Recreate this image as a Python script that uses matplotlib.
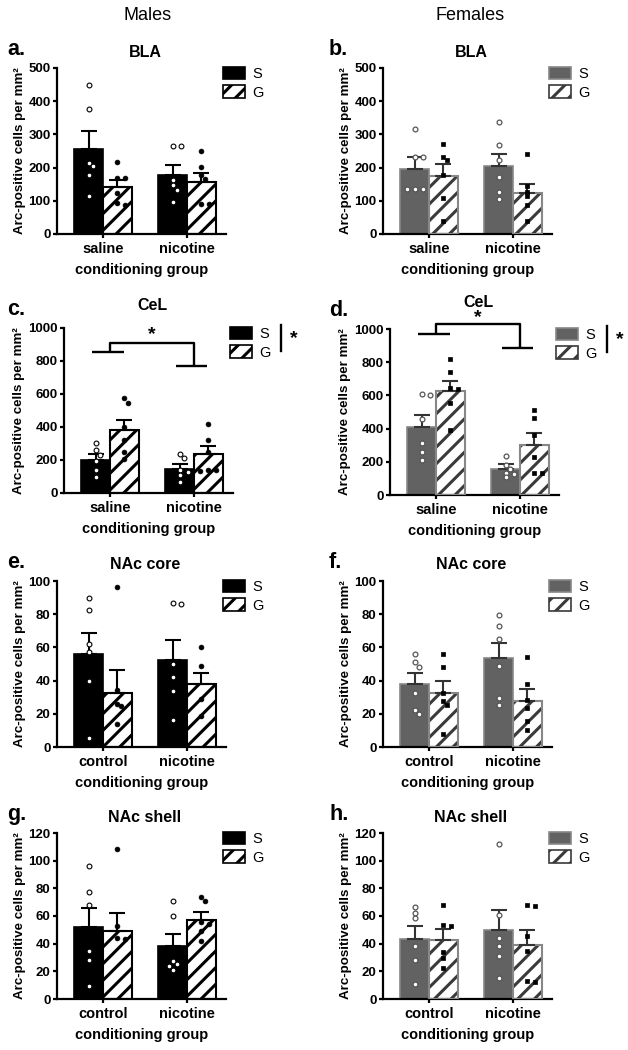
import numpy as np
import matplotlib
matplotlib.use("Agg")
import matplotlib.pyplot as plt
from matplotlib.patches import Patch

plt.rcParams['font.family'] = ['Liberation Sans', 'DejaVu Sans']
plt.rcParams['hatch.linewidth'] = 2.2

# ---- data ----
groups_cea = ['saline', 'nicotine']
groups_nac = ['control', 'nicotine']

# a. males BLA
a_s_mean = [256, 177]; a_s_sem = [53, 30]
a_g_mean = [142, 157]; a_g_sem = [22, 27]
a_s_pts = [[448, 378, 214, 206, 179, 113], [266, 266, 162, 147, 134, 95]]
a_g_pts = [[216, 168, 168, 124, 93, 88], [251, 203, 179, 166, 91, 91]]

# b. females BLA
b_s_mean = [196, 204]; b_s_sem = [36, 37]
b_g_mean = [174, 123]; b_g_sem = [37, 29]
b_s_pts = [[316, 232, 232, 136, 136, 136], [337, 268, 224, 173, 128, 106]]
b_g_pts = [[272, 232, 222, 179, 107, 40], [241, 144, 128, 113, 87, 40]]

# c. males CeL
c_s_mean = [199, 146]; c_s_sem = [36, 30]
c_g_mean = [380, 235]; c_g_sem = [64, 48]
c_s_pts = [[302, 258, 231, 191, 141, 95], [235, 215, 141, 130, 111, 64]]
c_g_pts = [[575, 547, 402, 322, 250, 207], [417, 322, 250, 141, 137, 133]]
c_bracket = [855, 910, 770]
c_star = 958

# d. females CeL
d_s_mean = [410, 157]; d_s_sem = [74, 27]
d_g_mean = [626, 301]; d_g_sem = [62, 70]
d_s_pts = [[608, 602, 460, 315, 261, 211], [237, 181, 157, 135, 126, 106]]
d_g_pts = [[817, 739, 643, 636, 552, 392], [512, 466, 361, 231, 131, 131]]
d_bracket = [970, 1030, 884]
d_star = 1066

# e. males NAc core
e_s_mean = [55.8, 52.3]; e_s_sem = [12.9, 12.4]
e_g_mean = [32.7, 37.8]; e_g_sem = [13.9, 6.8]
e_s_pts = [[89.6, 82.5, 61.8, 57.0, 39.8, 5.4], [87.0, 86.0, 50.2, 42.2, 33.9, 16.1]]
e_g_pts = [[96.4, 34.5, 26.1, 24.5, 14.1], [60.0, 48.8, 29.1, 18.7]]

# f. females NAc core
f_s_mean = [38.0, 53.4]; f_s_sem = [6.8, 9.4]
f_g_mean = [32.8, 28.0]; f_g_sem = [7.2, 7.0]
f_s_pts = [[56.0, 51.0, 48.2, 32.6, 22.4, 20.0], [79.4, 73.0, 65.0, 48.8, 29.4, 25.4]]
f_g_pts = [[56.0, 48.0, 32.8, 27.6, 25.6, 8.0], [54.4, 38.2, 28.4, 23.4, 15.8, 10.4]]

# g. males NAc shell
g_s_mean = [52.0, 38.0]; g_s_sem = [13.8, 8.7]
g_g_mean = [49.2, 57.3]; g_g_sem = [13.0, 5.6]
g_s_pts = [[95.9, 77.1, 68.2, 34.9, 28.2, 9.2], [71.1, 59.8, 27.2, 25.3, 23.6, 21.0]]
g_g_pts = [[108.7, 52.5, 44.1, 43.4], [73.7, 71.1, 56.0, 54.2, 48.9, 41.7]]

# h. females NAc shell
h_s_mean = [43.6, 49.6]; h_s_sem = [9.4, 14.4]
h_g_mean = [42.9, 39.3]; h_g_sem = [7.7, 10.8]
h_s_pts = [[66.3, 62.2, 58.6, 38.6, 28.4, 10.8], [112.3, 61.0, 43.9, 38.1, 30.8, 15.2]]
h_g_pts = [[68.2, 53.3, 53.0, 34.0, 29.6, 22.4], [67.7, 67.0, 45.3, 34.5, 12.8, 12.0]]

W, H = 628, 1050
UNIT = 84.0          # pixels between the two groups
XLIM = (-0.55, 1.47)
BW = 0.34

fig = plt.figure(figsize=(W / 100, H / 100), dpi=100)


def swarm(vals, px_per_unit, d=4.8):
    # simple beeswarm, returns x offsets in pixels
    placed = []
    offs = []
    for v in vals:
        y = v * px_per_unit
        for k in [0, 1, -1, 2, -2, 3, -3, 4, -4]:
            x = k * d * 0.85
            if all((x - px) ** 2 + (y - py) ** 2 >= d * d for px, py in placed):
                break
        placed.append((x, y))
        offs.append(x)
    return np.array(offs)


def fxy(x, y):
    return x / W, 1 - y / H


def panel(c0, top, bottom, letter, title, title_y, s_mean, s_sem, g_mean, g_sem, s_pts, g_pts,
          female, ymax, ystep, groups):
    left = c0 + XLIM[0] * UNIT
    right = c0 + XLIM[1] * UNIT
    ax = fig.add_axes([left / W, 1 - bottom / H, (right - left) / W, (bottom - top) / H])
    x = np.arange(2)

    if female:
        s_face, s_edge, hatch_c, g_edge, err_c = '#626262', '#878787', '#3a3a3a', '#878787', '#333333'
    else:
        s_face, s_edge, hatch_c, g_edge, err_c = 'black', 'black', 'black', 'black', 'black'

    ax.bar(x - BW / 2, s_mean, BW, color=s_face, edgecolor=s_edge, linewidth=1.2, zorder=2)
    ax.bar(x + BW / 2, g_mean, BW, color='white', edgecolor=hatch_c, hatch='//', linewidth=0, zorder=2)
    ax.bar(x + BW / 2, g_mean, BW, fill=False, edgecolor=g_edge, linewidth=1.5, zorder=3)
    ax.errorbar(x - BW / 2, s_mean, yerr=[np.zeros(2), s_sem], fmt='none', ecolor=err_c,
                elinewidth=1.5, capsize=5.5, capthick=1.5, zorder=4)
    ax.errorbar(x + BW / 2, g_mean, yerr=[np.zeros(2), g_sem], fmt='none', ecolor=err_c,
                elinewidth=1.5, capsize=5.5, capthick=1.5, zorder=4)

    ppu = (bottom - top) / ymax
    for i in range(2):
        so = swarm(s_pts[i], ppu) / UNIT
        go = swarm(g_pts[i], ppu) / UNIT
        if female:
            ax.scatter(x[i] - BW / 2 + so, s_pts[i], s=12, marker='o', facecolor='white',
                       edgecolor='#555555', linewidth=0.9, zorder=5, clip_on=False)
            ax.scatter(x[i] + BW / 2 + go, g_pts[i], s=11, marker='s', facecolor='black',
                       edgecolor='black', linewidth=0.5, zorder=5, clip_on=False)
        else:
            ax.scatter(x[i] - BW / 2 + so, s_pts[i], s=12, marker='o', facecolor='white',
                       edgecolor='black', linewidth=0.8, zorder=5, clip_on=False)
            ax.scatter(x[i] + BW / 2 + go, g_pts[i], s=12, marker='o', facecolor='black',
                       edgecolor='black', linewidth=0.5, zorder=5, clip_on=False)

    ax.set_xlim(*XLIM)
    ax.set_ylim(0, ymax)
    ax.set_yticks(np.arange(0, ymax + 1, ystep))
    ax.set_xticks(x)
    ax.set_xticklabels(groups)
    for sp in ['top', 'right']:
        ax.spines[sp].set_visible(False)
    for sp in ['left', 'bottom']:
        ax.spines[sp].set_linewidth(1.6)
    ax.tick_params(width=1.6, length=3, labelsize=9.5, pad=1.5)
    ax.tick_params(axis='x', labelsize=10.5, pad=3)
    for lab in ax.get_xticklabels() + ax.get_yticklabels():
        lab.set_fontweight('bold')
    ax.set_xlabel('conditioning group', fontsize=10.5, fontweight='bold', labelpad=5)
    ax.set_ylabel('Arc-positive cells per mm²', fontsize=9.6, fontweight='bold', labelpad=2)

    handles = [Patch(facecolor=s_face, edgecolor=s_edge, linewidth=1.2),
               Patch(facecolor='white', edgecolor=hatch_c, hatch='//', linewidth=1.2)]
    ax.legend(handles, ['S', 'G'], loc='upper left', bbox_to_anchor=fxy(right - 3, top - 1),
              bbox_transform=fig.transFigure, frameon=False, fontsize=10.5, borderpad=0,
              borderaxespad=0, handlelength=1.45, handleheight=0.9, handletextpad=0.55,
              labelspacing=0.3)

    lx = 7 if c0 < 314 else 329
    fig.text(*fxy(lx, top - 13), letter, fontsize=15.5, fontweight='bold', ha='left', va='baseline')
    fig.text(*fxy(c0 + 42, title_y), title, fontsize=11.5, fontweight='bold', ha='center',
             va='baseline')
    return ax, right


def significance(ax, right, top, bracket, star):
    lo_l, hi, lo_r = bracket
    kw = dict(color='black', lw=1.7, clip_on=False, solid_capstyle='butt')
    ax.plot([-0.21, 0.17], [lo_l, lo_l], **kw)
    ax.plot([0, 0, 1, 1], [lo_l, hi, hi, lo_r], **kw)
    ax.plot([0.79, 1.16], [lo_r, lo_r], **kw)
    ax.text(0.5, star, '*', ha='center', va='center', fontsize=14, fontweight='bold',
            clip_on=False)
    # main effect of group marker next to the legend
    fig.add_artist(plt.Line2D([(right + 48) / W] * 2, [1 - (top - 3) / H, 1 - (top + 23) / H],
                              color='black', lw=1.7))
    fig.text(*fxy(right + 60, top + 11), '*', fontsize=14, fontweight='bold',
             ha='center', va='center')


fig.text(*fxy(148, 15), 'Males', fontsize=13, ha='center', va='center')
fig.text(*fxy(470, 15), 'Females', fontsize=13, ha='center', va='center')

panel(103, 68, 234, 'a.', 'BLA', 57, a_s_mean, a_s_sem, a_g_mean, a_g_sem, a_s_pts, a_g_pts,
      False, 500, 100, groups_cea)
panel(429, 68, 234, 'b.', 'BLA', 57, b_s_mean, b_s_sem, b_g_mean, b_g_sem, b_s_pts, b_g_pts,
      True, 500, 100, groups_cea)
ax_c, r_c = panel(110, 328, 493, 'c.', 'CeL', 310, c_s_mean, c_s_sem, c_g_mean, c_g_sem, c_s_pts,
                  c_g_pts, False, 1000, 200, groups_cea)
significance(ax_c, r_c, 328, c_bracket, c_star)
ax_d, r_d = panel(436, 329, 495, 'd.', 'CeL', 307, d_s_mean, d_s_sem, d_g_mean, d_g_sem, d_s_pts,
                  d_g_pts, True, 1000, 200, groups_cea)
significance(ax_d, r_d, 329, d_bracket, d_star)
panel(103, 581, 747, 'e.', 'NAc core', 569, e_s_mean, e_s_sem, e_g_mean, e_g_sem, e_s_pts,
      e_g_pts, False, 100, 20, groups_nac)
panel(429, 581, 747, 'f.', 'NAc core', 569, f_s_mean, f_s_sem, f_g_mean, f_g_sem, f_s_pts,
      f_g_pts, True, 100, 20, groups_nac)
panel(103, 833, 999, 'g.', 'NAc shell', 822, g_s_mean, g_s_sem, g_g_mean, g_g_sem, g_s_pts,
      g_g_pts, False, 120, 20, groups_nac)
panel(429, 833, 999, 'h.', 'NAc shell', 822, h_s_mean, h_s_sem, h_g_mean, h_g_sem, h_s_pts,
      h_g_pts, True, 120, 20, groups_nac)

fig.savefig('out.png', dpi=100)
